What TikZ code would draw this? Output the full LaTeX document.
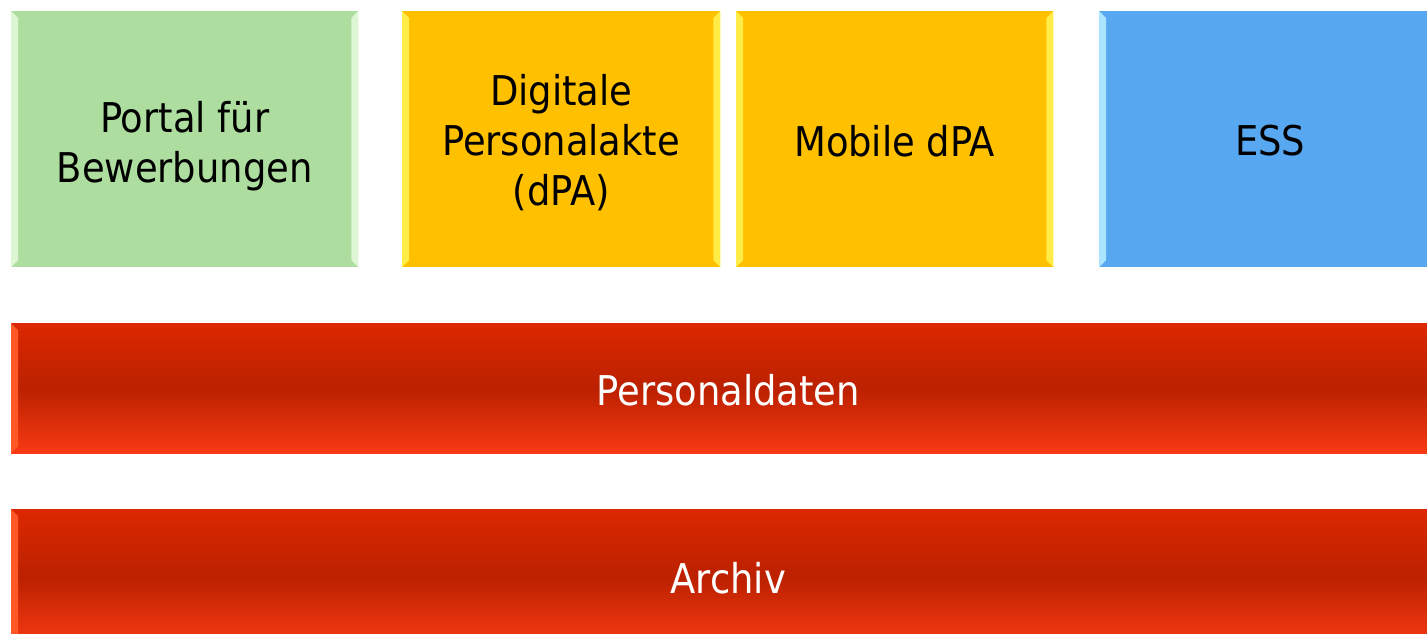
\documentclass[tikz,border=0pt]{standalone}
\usepackage{fontspec}
\setmainfont{DejaVu Sans Condensed}
\usetikzlibrary{calc}
\definecolor{gfill}{RGB}{173,222,160}
\definecolor{gbev}{RGB}{222,246,212}
\definecolor{ofill}{RGB}{255,192,0}
\definecolor{obev}{RGB}{255,236,70}
\definecolor{bfill}{RGB}{87,168,240}
\definecolor{bbev}{RGB}{170,228,255}
\definecolor{rtop}{RGB}{220,40,0}
\definecolor{rmid}{RGB}{187,33,0}
\definecolor{rbot}{RGB}{248,58,20}
\definecolor{rbev}{RGB}{255,88,40}
\newcommand{\boxfont}{\fontsize{41}{50}\selectfont}
\newcommand{\mybevel}[3]{%
  \fill[#2] (#1.north west) -- ++(#3,#3) -- ($(#1.south west)+(#3,-#3)$) -- (#1.south west) -- cycle;
  \fill[#2] (#1.north east) -- ++(-#3,#3) -- ($(#1.south east)+(-#3,-#3)$) -- (#1.south east) -- cycle;}
\tikzset{
  tbox/.style={anchor=north west, inner sep=0pt, minimum height=256pt},
  rbar/.style={anchor=north west, inner sep=0pt, minimum width=1434pt, minimum height=130pt,
    top color=rtop, bottom color=rbot, middle color=rmid},
  lbl/.style={font=\boxfont, text=black, align=center, inner sep=0pt},
  wlbl/.style={lbl, text=white},
}
\begin{document}
\begin{tikzpicture}[x=1pt,y=-1pt]
\useasboundingbox (0,0) rectangle (1427,634);
\clip (0,0) rectangle (1427,634);
\fill[white] (0,0) rectangle (1427,634);
\node[tbox, fill=gfill, minimum width=347pt] (portal) at (11,11) {};
\node[tbox, fill=ofill, minimum width=318pt] (dpa) at (402,11) {};
\node[tbox, fill=ofill, minimum width=317pt] (mdpa) at (736,11) {};
\node[tbox, fill=bfill, minimum width=342pt] (ess) at (1099,11) {};
\node[rbar] (pdaten) at (11,323) {};
\node[rbar, minimum height=136pt] (archiv) at (11,509) {};
\mybevel{portal}{gbev}{7}
\mybevel{dpa}{obev}{7}
\mybevel{mdpa}{obev}{7}
\mybevel{ess}{bbev}{7}
\fill[rbev] (pdaten.north west) -- ++(7,7) -- ($(pdaten.south west)+(7,-7)$) -- (pdaten.south west) -- cycle;
\fill[rbev] (archiv.north west) -- ++(7,7) -- ($(archiv.south west)+(7,-7)$) -- (archiv.south west) -- cycle;
\node[lbl, yshift=-7pt] (portal-t) at (portal.center) {Portal für\\Bewerbungen};
\node[lbl, yshift=-3pt] (dpa-t) at (dpa.center) {Digitale\\Personalakte\\(dPA)};
\node[lbl, yshift=-2pt] (mdpa-t) at (mdpa.center) {Mobile dPA};
\node[lbl, yshift=-1pt] (ess-t) at (ess.center) {ESS};
\node[wlbl, yshift=-2pt] (pdaten-t) at (pdaten.center) {Personaldaten};
\node[wlbl, yshift=-1pt] (archiv-t) at (archiv.center) {Archiv};
\end{tikzpicture}
\end{document}
